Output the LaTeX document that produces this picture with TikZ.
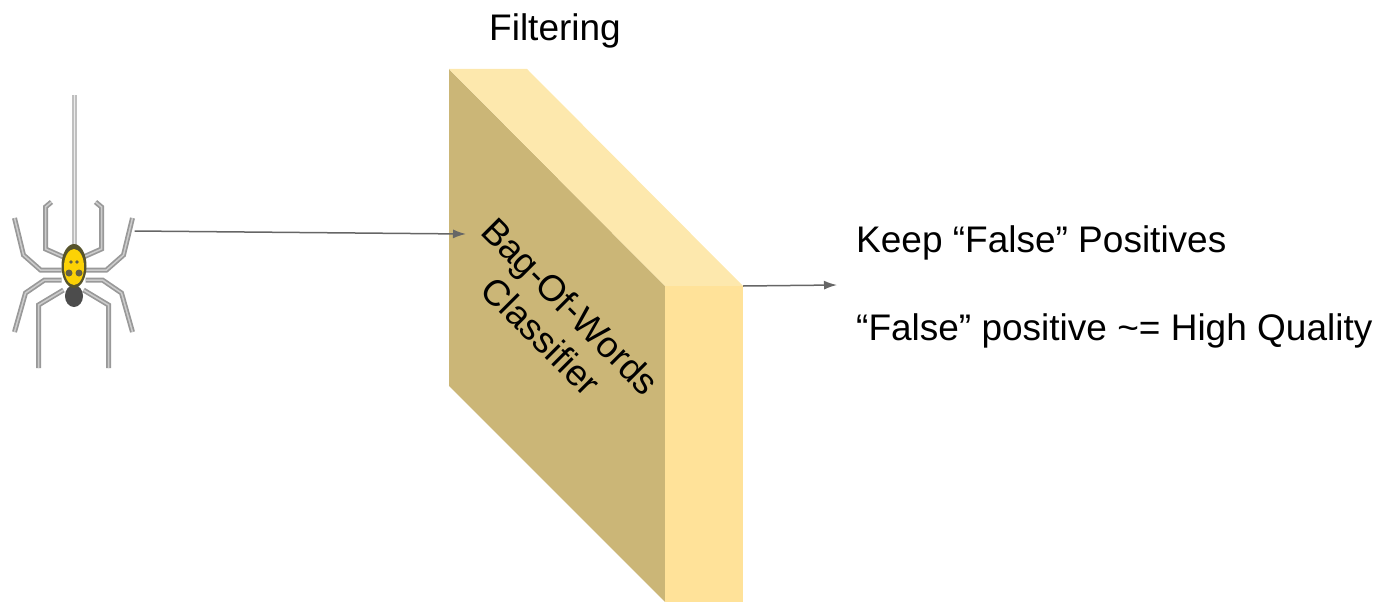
\documentclass[tikz,border=0pt]{standalone}
\usepackage{fontspec}
\setmainfont{Liberation Sans}
\usetikzlibrary{arrows.meta}

\newcommand{\spiderleg}[1]{\draw[leg] #1; \draw[legcore] #1;}

\begin{document}
\begin{tikzpicture}[x=1pt,y=-1pt]

\tikzset{textlabel/.style = {anchor=west,inner sep=0pt,font=\fontsize{37}{42}\selectfont}}
\tikzset{edge/.style = {-{Latex[length=13pt,width=9pt]},draw=black!60,line width=1.5pt}}
\tikzset{leg/.style = {draw=black!40,line width=5pt}}
\tikzset{legcore/.style = {draw=black!20,line width=1.5pt}}

\definecolor{frontcol}{HTML}{CBB677}
\definecolor{topcol}{HTML}{FDE8AD}
\definecolor{sidecol}{HTML}{FFE299}

\useasboundingbox (0,0) rectangle (1378,602);

% block
\coordinate (a) at (449,69);
\coordinate (b) at (527,69);
\coordinate (c) at (743,286);
\coordinate (d) at (665,286);
\coordinate (e) at (665,602);
\coordinate (f) at (449,386);
\coordinate (g) at (743,602);
\fill[frontcol] (a) -- (d) -- (e) -- (f) -- cycle;
\fill[topcol] (a) -- (b) -- (c) -- (d) -- cycle;
\fill[sidecol] (d) -- (c) -- (g) -- (e) -- cycle;

% spider
\draw[draw=black!25,line width=5pt] (74.5,95) -- (74.5,250);
\draw[draw=black!8,line width=1.5pt] (74.5,95) -- (74.5,250);
\foreach \s in {1,-1} {
  \begin{scope}[shift={(73.5,0)},xscale=\s]
    \spiderleg{(10,257) -- (28,249) -- (28,207) -- (22,202)}
    \spiderleg{(12,270) -- (33,270) -- (50,255) -- (59,218)}
    \spiderleg{(12,280) -- (29,280) -- (48,293) -- (59,332)}
    \spiderleg{(10,290) -- (35,305) -- (35,368)}
  \end{scope}
}
\fill[black!70] (74,296) ellipse (9pt and 11pt);
\fill[black!50!olive] (74,266) ellipse (12.5pt and 22pt);
\fill[yellow!70!orange] (74,267) ellipse (10pt and 18pt);
\foreach \x/\y/\r in {69/273/3.5, 79/273/3.5, 71/262/1.8, 77/262/1.8} {
  \fill[black!70!yellow] (\x,\y) circle (\r pt);
}
\node[inner sep=0pt,minimum size=1pt] (spider) at (134,231) {};

%edges
\coordinate (blockin) at (466,234);
\coordinate (blockout) at (743,286);
\coordinate (keepin) at (837,285);
\draw[edge] (spider) -- (blockin);
\draw[edge] (blockout) -- (keepin);

% labels
\node[textlabel] (filtering) at (489,31) {Filtering};
\node[textlabel] (keep) at (856,243) {Keep “False” Positives};
\node[textlabel] (quality) at (856,331) {“False” positive \textasciitilde= High Quality};
\node[font=\fontsize{36.5}{42}\selectfont,rotate=-45,align=center,inner sep=0pt] (classifier) at (556,321) {Bag-Of-Words\\Classifier};

\end{tikzpicture}
\end{document}
